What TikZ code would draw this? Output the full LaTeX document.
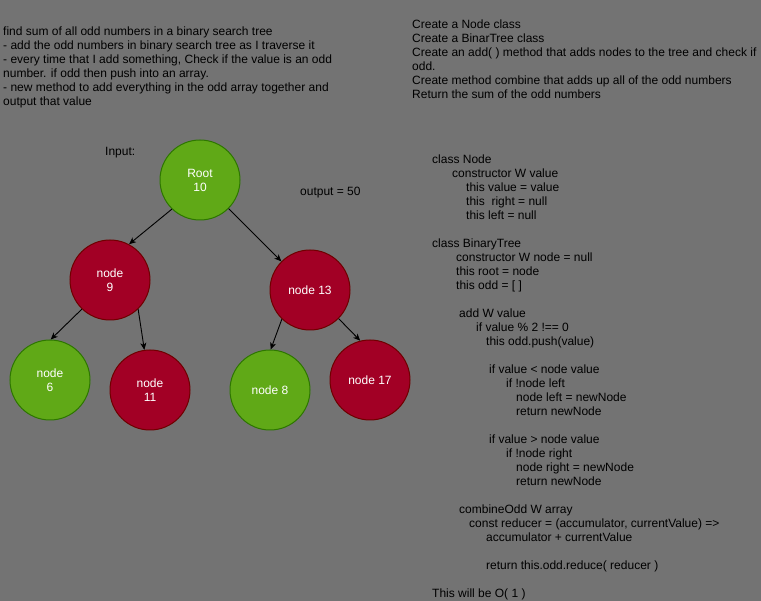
\documentclass[tikz,border=0pt]{standalone}
\usepackage{fontspec}
\setmainfont{Liberation Sans}
\usepackage{tikz}
\usetikzlibrary{arrows.meta}
\newcommand{\circleSize}[0]{80pt}
\newcommand{\textSize}[0]{\fontsize{12}{14}\selectfont}
\definecolor{bggrey}{HTML}{737373}
\definecolor{oddred}{HTML}{A20025}
\definecolor{oddredline}{HTML}{6F0000}
\definecolor{evengreen}{HTML}{60A917}
\definecolor{evengreenline}{HTML}{2D7600}

\begin{document}
\begin{tikzpicture}[x=1pt, y=-1pt, >={Stealth[length=7pt, width=6pt, inset=2pt]}]
  \tikzset{every node/.style={font=\textSize, inner sep=0pt},
    even/.style={circle, minimum size=\circleSize, fill=evengreen, draw=evengreenline, line width=1pt, text=white, align=center},
    odd/.style={circle, minimum size=\circleSize, fill=oddred, draw=oddredline, line width=1pt, text=white, align=center},
    notes/.style={anchor=north west, align=left},
    edge/.style={->, line width=0.9pt, black}}
  \fill[bggrey] (0,0) rectangle (761,601);
  \useasboundingbox (0,0) rectangle (761,601);
  % problem and plan
  \node[notes] (problem) at (3,26.5) {find sum of all odd numbers in a binary search tree\\
    - add the odd numbers in binary search tree as I traverse it\\
    - every time that I add something, Check if the value is an odd\\
    number. if odd then push into an array.\\
    - new method to add everything in the odd array together and\\
    output that value};
  \node[notes] (plan) at (412,19.8) {Create a Node class\\
    Create a BinarTree class\\
    Create an add( ) method that adds nodes to the tree and check if\\
    odd.\\
    Create method combine that adds up all of the odd numbers\\
    Return the sum of the odd numbers};
  % tree
  \node[anchor=base west] (input) at (105,156) {Input:};
  \node[anchor=base west] (output) at (300,196) {output = 50};
  \node[even] (Root) at (200,180) {Root\\10};
  \node[odd] (N-9) at (110,280) {node\\9};
  \node[odd] (N-13) at (310,290) {node 13};
  \node[even] (N-6) at (50,380) {node\\6};
  \node[odd] (N-11) at (150,390) {node\\11};
  \node[even] (N-8) at (270,390) {node 8};
  \node[odd] (N-17) at (370,380) {node 17};
  \draw[edge] (Root.226) -- (N-9.62);
  \draw[edge] (Root.315) -- (N-13.135);
  \draw[edge] (N-9.226) -- (N-6.89);
  \draw[edge] (N-9.314) -- (N-11.98);
  \draw[edge] (N-13.226) -- (N-8.89);
  \draw[edge] (N-13.315) -- (N-17.104);
  % pseudo code
  \node[notes] (code) at (432,154.5) {class Node\\
    \hspace*{20pt}constructor W value\\
    \hspace*{34pt}this value = value\\
    \hspace*{34pt}this\ \ right = null\\
    \hspace*{34pt}this left = null\\[14pt]
    class BinaryTree\\
    \hspace*{24pt}constructor W node = null\\
    \hspace*{24pt}this root = node\\
    \hspace*{24pt}this odd = [ ]\\[14pt]
    \hspace*{27pt}add W value\\
    \hspace*{44pt}if value \% 2 !== 0\\
    \hspace*{54pt}this odd.push(value)\\[14pt]
    \hspace*{57pt}if value < node value\\
    \hspace*{74pt}if !node left\\
    \hspace*{84pt}node left = newNode\\
    \hspace*{84pt}return newNode\\[14pt]
    \hspace*{57pt}if value > node value\\
    \hspace*{74pt}if !node right\\
    \hspace*{84pt}node right = newNode\\
    \hspace*{84pt}return newNode\\[14pt]
    \hspace*{27pt}combineOdd W array\\
    \hspace*{37pt}const reducer = (accumulator, currentValue) =>\\
    \hspace*{54pt}accumulator + currentValue\\[14pt]
    \hspace*{54pt}return this.odd.reduce( reducer )\\[14pt]
    This will be O( 1 )};
\end{tikzpicture}
\end{document}
